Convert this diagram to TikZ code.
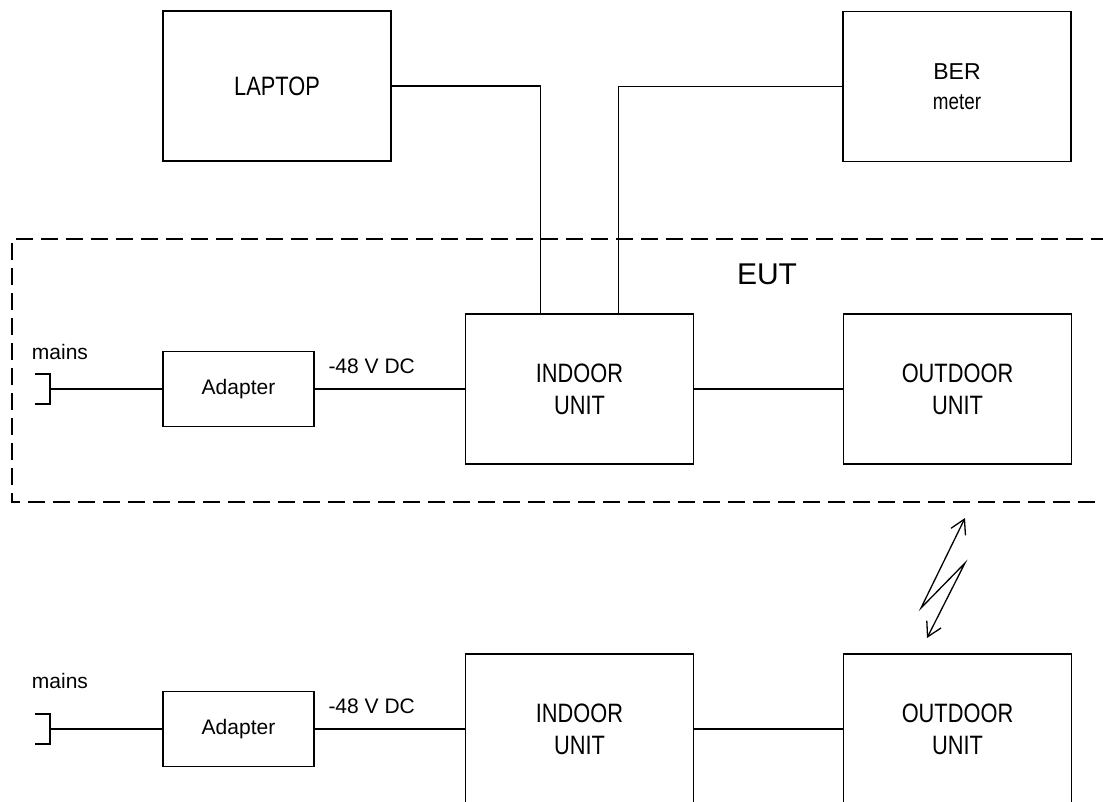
\documentclass[tikz,border=0pt]{standalone}
\usepackage{fontspec}
\setmainfont{Liberation Sans}
\newfontfamily\narrowfont[FakeStretch=0.82]{Liberation Sans}
\usetikzlibrary{arrows.meta,calc,positioning}

\begin{document}
\begin{tikzpicture}[
  x=0.5pt, y=-0.5pt,
  line width=0.75pt,
  unit/.style={draw, minimum width=114pt, minimum height=75pt, align=center, inner sep=0pt, font=\narrowfont\fontsize{13.3}{16}\selectfont},
  adapt/.style={draw, minimum width=75.5pt, minimum height=37.5pt, inner sep=0pt, font=\fontsize{10.5}{12.6}\selectfont},
  lbl/.style={inner sep=0pt, font=\fontsize{10.5}{12.6}\selectfont},
  eutframe/.style={dash pattern=on 8.3pt off 4.2pt},
  radio/.style={{Straight Barb[length=7pt,width=8pt]}-{Straight Barb[length=7pt,width=8pt]}, line width=0.65pt}
]
\useasboundingbox (0,0) rectangle (1103,802);
\clip (0,0) rectangle (1103,802);

\node[unit] (laptop) at (277,86) {LAPTOP};
\node[unit, font=\fontsize{11.5}{15}\selectfont] (ber) at (957,86.5) {BER\\\narrowfont meter};

\draw[eutframe] (1120,502) -- (12,502) -- (12,239) -- (1120,239);
\node[inner sep=0pt, font=\fontsize{15}{18}\selectfont] (eut) at (767,274) {EUT};

\node[unit] (in1) at (579.5,389) {INDOOR\\UNIT};
\node[unit] (out1) at (957.5,389) {OUTDOOR\\UNIT};
\node[adapt] (ad1) at (238.5,389) {Adapter};
\coordinate (plug1) at (50,389);
\node[lbl, anchor=base] (mains1) at (60,359) {mains};
\node[lbl, anchor=base west] (dc1) at ($(ad1.east)+(13,-16)$) {-48 V DC};

\coordinate (lapin) at ($(in1.north west)!0.33!(in1.north east)$);
\coordinate (berin) at ($(in1.north west)!0.67!(in1.north east)$);
\draw (laptop.east) -| (lapin);
\draw (ber.west) -| (berin);
\draw (plug1) -- (ad1);
\draw ([shift={(-15,-15)}]plug1) -| ([shift={(0,15)}]plug1) -- ++(-15,0);
\draw (ad1) -- (in1);
\draw (in1) -- (out1);

\coordinate (r1) at (965,518);
\coordinate (r2) at (921,608);
\coordinate (r3) at (965,563);
\coordinate (r4) at (927,638);
\draw[radio] (r1) -- (r2) -- (r3) -- (r4);

\node[unit] (in2) at (579.5,729) {INDOOR\\UNIT};
\node[unit] (out2) at (957.5,729) {OUTDOOR\\UNIT};
\node[adapt] (ad2) at (238.5,729) {Adapter};
\coordinate (plug2) at (50,729);
\node[lbl, anchor=base] (mains2) at (60,688) {mains};
\node[lbl, anchor=base west] (dc2) at ($(ad2.east)+(13,-16)$) {-48 V DC};

\draw (plug2) -- (ad2);
\draw ([shift={(-15,-15)}]plug2) -| ([shift={(0,15)}]plug2) -- ++(-15,0);
\draw (ad2) -- (in2);
\draw (in2) -- (out2);
\end{tikzpicture}
\end{document}
